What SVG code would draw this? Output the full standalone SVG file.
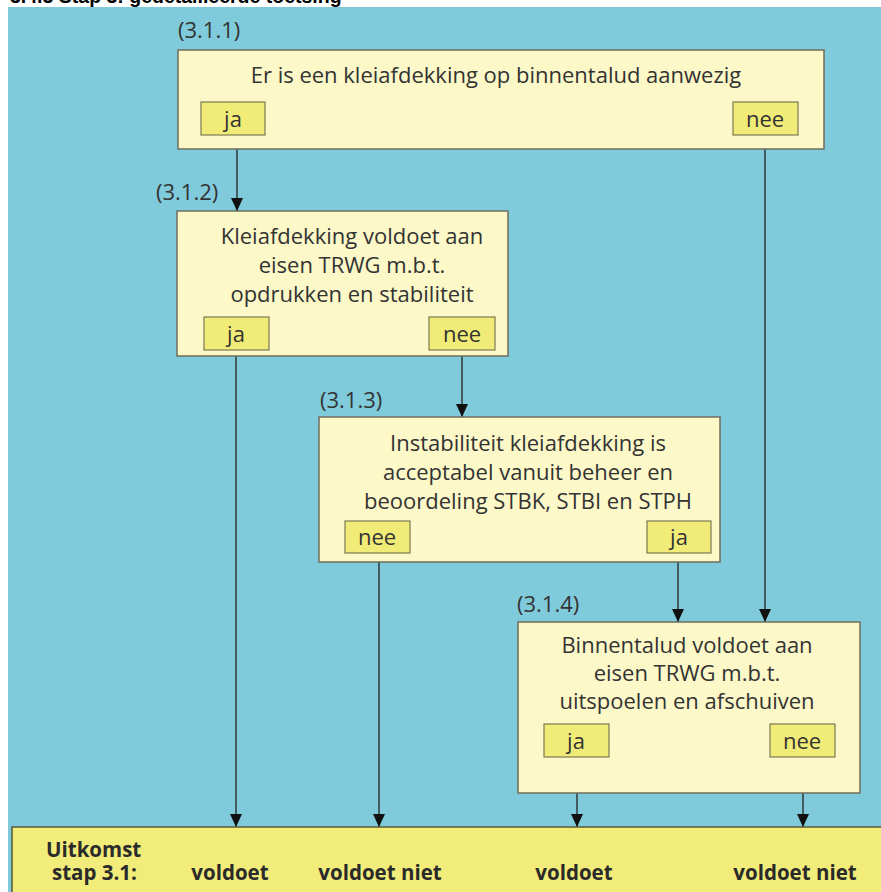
<svg xmlns="http://www.w3.org/2000/svg" width="881" height="892" viewBox="0 0 881 892">
<defs>
<style>
.bg{fill:#80cbdb}
.box{fill:#fcf8c8;stroke:#6e6e5c;stroke-width:1.5}
.btn{fill:#f1eb78;stroke:#7a7a52;stroke-width:1.2}
.t{font-family:"Open Sans","Liberation Sans",sans-serif;font-size:22px;fill:#333;text-anchor:middle}
.lbl{font-family:"Open Sans","Liberation Sans",sans-serif;font-size:22px;fill:#333}
.b{font-family:"Open Sans","Liberation Sans",sans-serif;font-size:20.5px;font-weight:bold;fill:#2a2a2a}
.title{font-family:"Liberation Sans",Arial,sans-serif;font-size:19.5px;font-weight:bold;fill:#000}
.ln{stroke:#222;stroke-width:1.3;fill:none;marker-end:url(#ah)}
.out{fill:#f2ec7a;stroke:#5a5a3a;stroke-width:1.5}
</style>
<marker id="ah" viewBox="0 0 13 12" refX="13" refY="6" markerWidth="13" markerHeight="12" markerUnits="userSpaceOnUse" orient="auto">
<path d="M0,0 L13,6 L0,12 Z" fill="#111"/>
</marker>
</defs>
<rect x="0" y="0" width="881" height="892" fill="#fff"/>
<text class="title" x="10" y="3">3.4.3  Stap 3: gedetailleerde toetsing</text>
<rect class="bg" x="8" y="7" width="873" height="885"/>

<g id="connectors">
<line class="ln" x1="237" y1="149" x2="237" y2="211"/>
<line class="ln" x1="765" y1="149" x2="765" y2="622"/>
<line class="ln" x1="236" y1="356" x2="236" y2="827"/>
<line class="ln" x1="462" y1="356" x2="462" y2="417"/>
<line class="ln" x1="379" y1="562" x2="379" y2="827"/>
<line class="ln" x1="678" y1="562" x2="678" y2="622"/>
<line class="ln" x1="577" y1="793" x2="577" y2="827"/>
<line class="ln" x1="803" y1="793" x2="803" y2="827"/>
</g>

<g id="n311">
<text class="lbl" x="178" y="38">(3.1.1)</text>
<rect class="box" x="178" y="50" width="646" height="99"/>
<text class="t" x="496" y="83">Er is een kleiafdekking op binnentalud aanwezig</text>
<rect class="btn" x="201" y="102" width="64" height="33"/>
<text class="t" x="233" y="127">ja</text>
<rect class="btn" x="733" y="102" width="65" height="33"/>
<text class="t" x="765" y="127">nee</text>
</g>

<g id="n312">
<text class="lbl" x="156" y="200">(3.1.2)</text>
<rect class="box" x="177" y="211" width="331" height="145"/>
<text class="t" x="352" y="244">Kleiafdekking voldoet aan</text>
<text class="t" x="352" y="273">eisen TRWG m.b.t.</text>
<text class="t" x="352" y="302">opdrukken en stabiliteit</text>
<rect class="btn" x="204" y="317" width="65" height="33"/>
<text class="t" x="236" y="342">ja</text>
<rect class="btn" x="429" y="317" width="66" height="33"/>
<text class="t" x="462" y="342">nee</text>
</g>

<g id="n313">
<text class="lbl" x="320" y="408">(3.1.3)</text>
<rect class="box" x="319" y="417" width="401" height="145"/>
<text class="t" x="528" y="451">Instabiliteit kleiafdekking is</text>
<text class="t" x="528" y="480">acceptabel vanuit beheer en</text>
<text class="t" x="528" y="509">beoordeling STBK, STBI en STPH</text>
<rect class="btn" x="345" y="521" width="65" height="32"/>
<text class="t" x="377" y="545">nee</text>
<rect class="btn" x="647" y="521" width="64" height="32"/>
<text class="t" x="679" y="545">ja</text>
</g>

<g id="n314">
<text class="lbl" x="517" y="612">(3.1.4)</text>
<rect class="box" x="518" y="622" width="342" height="171"/>
<text class="t" x="687" y="653">Binnentalud voldoet aan</text>
<text class="t" x="687" y="681">eisen TRWG m.b.t.</text>
<text class="t" x="687" y="709">uitspoelen en afschuiven</text>
<rect class="btn" x="544" y="724" width="65" height="33"/>
<text class="t" x="576" y="749">ja</text>
<rect class="btn" x="770" y="724" width="65" height="33"/>
<text class="t" x="802" y="749">nee</text>
</g>

<g id="uitkomst">
<rect class="out" x="12" y="827" width="880" height="80"/>
<text class="b" x="46" y="857">Uitkomst</text>
<text class="b" x="52" y="880">stap 3.1:</text>
<text class="b" x="230" y="880" text-anchor="middle">voldoet</text>
<text class="b" x="380" y="880" text-anchor="middle">voldoet niet</text>
<text class="b" x="574" y="880" text-anchor="middle">voldoet</text>
<text class="b" x="795" y="880" text-anchor="middle">voldoet niet</text>
</g>
</svg>
